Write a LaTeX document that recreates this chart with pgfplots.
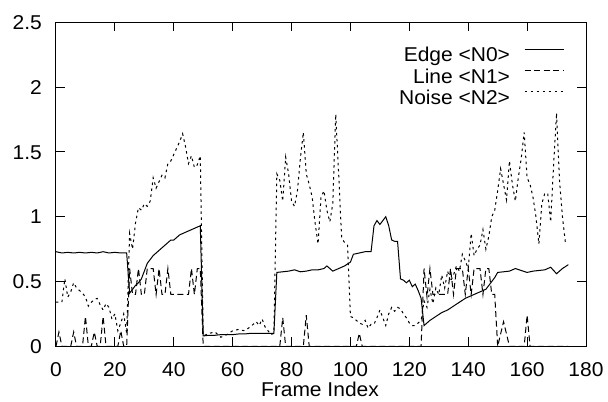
\documentclass[border=0pt]{standalone}
\usepackage{fontspec}
\setmainfont{Liberation Sans}[FakeStretch=1.05]
\usepackage{pgfplots}
\pgfplotsset{compat=1.18}
\usetikzlibrary{calc}

\begin{document}
\fontsize{20bp}{23bp}\selectfont
\begin{tikzpicture}
\begin{axis}[
    scale only axis,
    width=530bp, height=324bp,
    xmin=0, xmax=180, ymin=0, ymax=2.5,
    xtick={0,20,40,60,80,100,120,140,160,180},
    ytick={0,0.5,1,1.5,2,2.5},
    tick align=inside,
    major tick length=9bp,
    axis line style={line width=1bp},
    every tick/.style={black, line width=1bp},
    /pgf/number format/assume math mode=true,
    x tick label style={anchor=base, yshift=-30.5bp},
    y tick label style={anchor=base east, inner sep=0pt, xshift=-14bp, yshift=-7.2bp},
    xlabel={Frame Index},
    xlabel style={at={(axis description cs:0.498,0)}, anchor=base, yshift=-50.5bp},
    legend style={draw=none, fill=none, inner sep=0pt, outer sep=0pt,
                  at={(0.9585,0.9207)}, anchor=north east,
                  nodes={inner sep=0pt, text height=14bp, text depth=4bp},
                  column sep=14bp, row sep=3.2bp},
    legend cell align=right,
    legend plot pos=right,
    legend image code/.code={\draw[#1] (0bp,7.8bp) -- (39bp,7.8bp);},
]
% Edge <N0>
\addplot[black, line width=1bp] coordinates {
(0,0.73)(2,0.72)(4,0.725)(6,0.72)(8,0.725)(10,0.72)(12,0.725)(14,0.72)(16,0.73)(18,0.72)(20,0.725)(22,0.72)(24,0.72)
(25,0.41)(26,0.44)(27,0.47)(28,0.49)(29,0.52)(30,0.58)(31,0.64)(32,0.67)(33,0.70)(34,0.72)(35,0.74)(36,0.76)(37,0.78)
(38,0.80)(39,0.82)(40,0.82)(41,0.84)(42,0.86)(43,0.87)(44,0.88)(45,0.89)(46,0.90)(47,0.91)(48,0.92)(49,0.93)
(50,0.08)(52,0.085)(54,0.085)(56,0.09)(58,0.09)(60,0.09)(62,0.095)(64,0.095)(66,0.10)(68,0.10)(70,0.10)(72,0.10)(74,0.10)
(75,0.57)(77,0.575)(79,0.58)(81,0.59)(83,0.575)(85,0.58)(87,0.59)(89,0.59)(91,0.60)(92,0.62)(93,0.60)(94,0.58)(96,0.60)
(98,0.62)(100,0.65)(101,0.71)(103,0.72)(105,0.73)(107,0.73)(108,0.93)(109,0.97)(110,0.94)(111,0.97)(112,1.00)(113,0.93)
(114,0.82)(115,0.81)(116,0.81)(117,0.52)(118,0.51)(119,0.49)(120,0.51)(121,0.46)(122,0.48)(123,0.43)(124,0.37)
(125,0.16)(127,0.20)(129,0.23)(131,0.26)(133,0.28)(135,0.31)(137,0.34)(139,0.37)(141,0.39)(143,0.41)(145,0.43)
(146,0.44)(147,0.47)(148,0.50)(149,0.53)(150,0.57)(152,0.575)(154,0.58)(156,0.60)(158,0.585)(160,0.57)(162,0.58)
(164,0.585)(166,0.59)(168,0.61)(170,0.56)(172,0.60)(174,0.63)
};
% Line <N1>
\addplot[black, line width=1bp, dash pattern=on 6bp off 3.5bp] coordinates {
(0,0)(1,0.11)(2,0)(5,0)(6,0.11)(7,0)(9,0)(10,0.23)(11,0)(12,0)(13,0.11)(14,0)(15,0)(16,0.23)(17,0)(21,0)(22,0.12)(23,0)(24,0)
(25,0.6)(26,0.4)(27,0.4)(28,0.6)(29,0.4)(30,0.4)(31,0.6)(32,0.6)(33,0.6)(34,0.4)(35,0.6)(36,0.4)(37,0.4)(38,0.6)(39,0.4)
(40,0.4)(41,0.4)(42,0.4)(43,0.4)(44,0.4)(45,0.4)(46,0.6)(47,0.4)(48,0.6)(49,0.6)
(50,0)(76,0)(77,0.22)(78,0)(84,0)(85,0.24)(86,0)(102,0)(103,0.1)(104,0)(124,0)
(125,0.6)(126,0.38)(127,0.6)(128,0.4)(129,0.4)(130,0.4)(131,0.4)(132,0.4)(133,0.4)(134,0.6)(135,0.4)(136,0.6)(137,0.6)
(138,0.6)(139,0.4)(140,0.6)(141,0.4)(142,0.6)(143,0.6)(144,0.6)(145,0.4)(146,0.6)(147,0.6)(148,0.4)(149,0.4)
(150,0)(152,0.19)(154,0)(159,0)(160,0.24)(161,0)(174,0)
};
% Noise <N2>
\addplot[black, line width=1bp, dash pattern=on 2.5bp off 3.5bp] coordinates {
(0,0.34)(1,0.34)(2,0.34)(3,0.52)(4,0.38)(5,0.42)(6,0.49)(7,0.45)(8,0.43)(9,0.41)(10,0.38)(11,0.31)(12,0.34)(13,0.36)
(14,0.37)(15,0.32)(16,0.28)(17,0.33)(18,0.30)(19,0.21)(20,0.25)(21,0.12)(22,0.18)(23,0.25)(24,0.10)
(25,0.87)(26,0.75)(27,0.95)(28,1.07)(29,1.05)(30,1.10)(31,1.08)(32,1.12)(33,1.30)(34,1.22)(35,1.27)(36,1.32)(37,1.30)
(38,1.41)(39,1.43)(40,1.48)(41,1.53)(42,1.58)(43,1.64)(44,1.54)(45,1.41)(46,1.47)(47,1.38)(48,1.40)(49,1.47)
(50,0.08)(52,0.10)(54,0.11)(56,0.07)(58,0.09)(60,0.12)(62,0.13)(64,0.12)(66,0.15)(68,0.19)(69,0.16)(70,0.21)(71,0.15)
(72,0.12)(73,0.09)(74,0.10)
(75,1.33)(76,1.28)(77,1.12)(78,1.46)(79,1.33)(80,1.12)(81,1.08)(82,1.20)(83,1.45)(84,1.65)(85,1.33)(86,1.25)(87,1.15)
(88,0.95)(89,0.79)(90,1.15)(91,1.20)(92,1.05)(93,0.96)(94,1.10)(95,1.79)(96,1.33)(97,0.84)(98,0.80)(99,0.78)
(100,0.23)(101,0.22)(102,0.20)(103,0.18)(104,0.17)(105,0.20)(106,0.14)(107,0.17)(108,0.17)(109,0.22)(110,0.28)(111,0.22)
(112,0.16)(113,0.25)(114,0.30)(115,0.27)(116,0.30)(117,0.29)(118,0.25)(119,0.22)(120,0.18)(121,0.16)(122,0.16)(123,0.18)
(124,0.20)(125,0.35)(126,0.30)(127,0.44)(128,0.33)(129,0.45)(130,0.40)(131,0.55)(132,0.45)(133,0.58)(134,0.50)(135,0.55)
(136,0.62)(137,0.58)(138,0.71)(139,0.66)(140,0.60)(141,0.87)(142,0.70)(143,0.75)(144,0.78)(145,0.90)(146,0.75)(147,0.85)
(148,1.00)(149,1.05)(150,1.20)(151,1.37)(152,1.25)(153,1.13)(154,1.43)(155,1.25)(156,1.12)(157,1.30)(158,1.45)(159,1.65)
(160,1.30)(161,1.25)(162,1.15)(163,1.00)(164,0.79)(165,1.10)(166,1.18)(167,1.18)(168,0.96)(169,1.40)(170,1.80)(171,1.28)
(172,1.00)(173,0.80)
};
\legend{Edge <N0>, Line <N1>, Noise <N2>}
\end{axis}
\pgfresetboundingbox
\path[use as bounding box] ($(current axis.south west)+(-56bp,-55bp)$) rectangle ($(current axis.north east)+(22bp,22.3bp)$);
\end{tikzpicture}
\end{document}
